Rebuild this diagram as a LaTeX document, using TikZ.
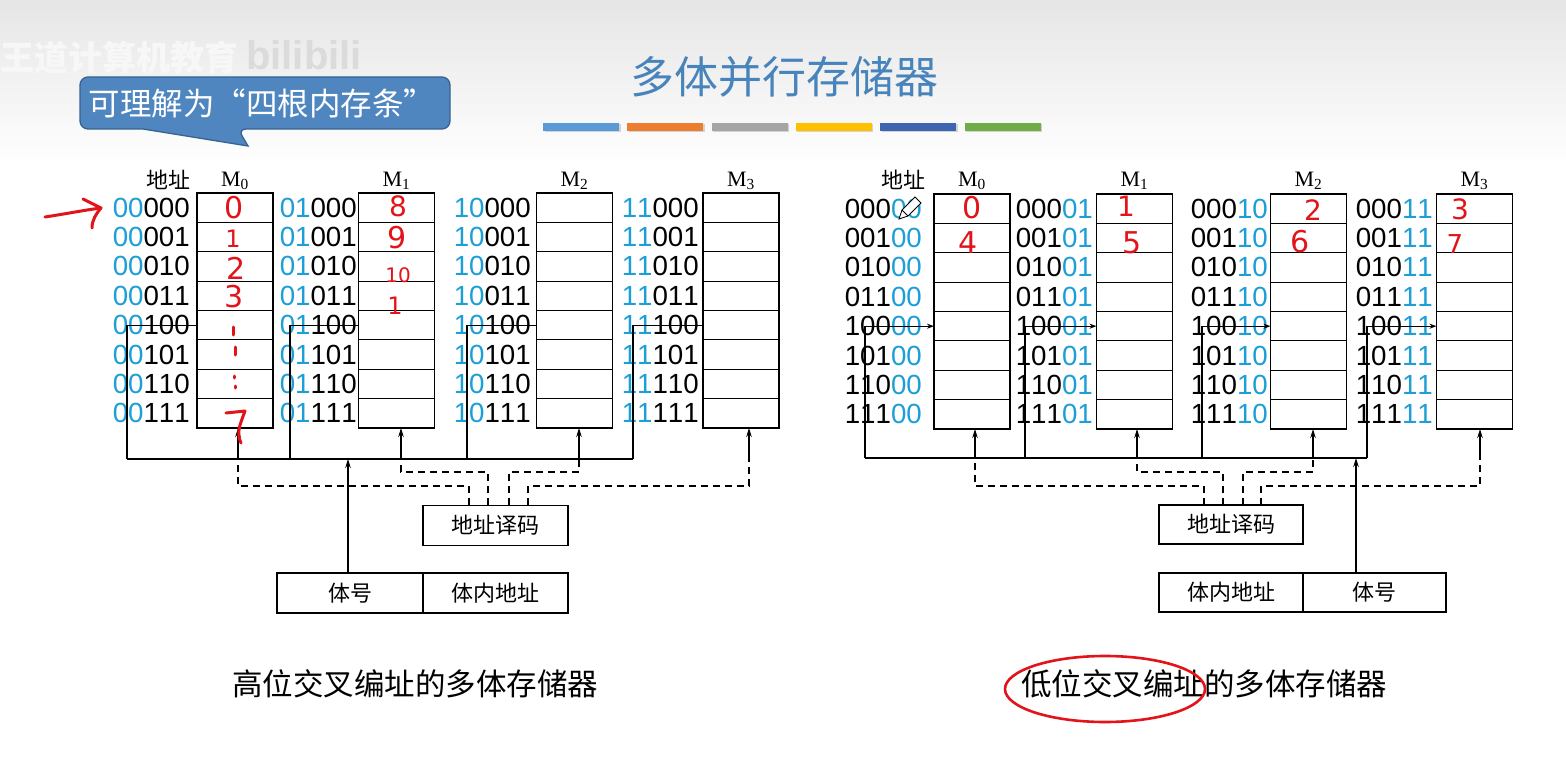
\documentclass[tikz,border=0pt]{standalone}
\usepackage{fontspec}
\setmainfont{Liberation Serif}
\newfontfamily\addrfont[Kerning=Off]{Liberation Sans}
\newfontfamily\cjkfont{Noto Sans CJK SC}
\newfontfamily\handfont{DejaVu Sans}
\usetikzlibrary{arrows.meta,calc}

\definecolor{addrblue}{RGB}{28,158,214}
\definecolor{titleblue}{RGB}{72,132,188}
\definecolor{calloutfill}{RGB}{79,134,192}
\definecolor{calloutedge}{RGB}{56,98,145}
\definecolor{inkred}{RGB}{226,20,26}
\definecolor{barA}{RGB}{91,155,213}
\definecolor{barB}{RGB}{237,125,49}
\definecolor{barC}{RGB}{165,165,165}
\definecolor{barD}{RGB}{255,192,0}
\definecolor{barE}{RGB}{62,100,178}
\definecolor{barF}{RGB}{112,173,71}

\begin{document}
\begin{tikzpicture}[x=1pt,y=-1pt,
  bank/.style={draw,line width=1.3pt,minimum width=76pt,minimum height=235pt,inner sep=0pt,outer sep=0pt},
  rowline/.style={line width=1.1pt},
  addr/.style={inner sep=0pt,font=\addrfont\fontsize{27.7}{30}\selectfont},
  mlabel/.style={inner sep=0pt,font=\fontsize{22}{24}\selectfont},
  cjklabel/.style={inner sep=0pt,font=\cjkfont\fontsize{22}{24}\selectfont},
  field/.style={draw,line width=1.3pt,minimum height=40pt,inner sep=0pt,outer sep=0pt,font=\cjkfont\fontsize{22}{24}\selectfont},
  bus/.style={line width=1.3pt},
  arr/.style={line width=1.3pt,-{Stealth[length=9pt,width=5.5pt]}},
  tipline/.style={line width=1.3pt,-{Stealth[length=7pt,width=5pt]}},
  dsh/.style={line width=1.3pt,dash pattern=on 7pt off 5pt},
  caption/.style={inner sep=0pt,font=\cjkfont\fontsize{30.5}{32}\selectfont},
  hand/.style={inner sep=0pt,text=inkred,font=\handfont\fontsize{30}{30}\selectfont},
  ink/.style={draw=inkred,line width=3pt,line cap=round,line join=round}
]
\useasboundingbox (0,0) rectangle (1566,770);
\fill[white] (0,0) rectangle (1566,770);
\shade[top color=gray!20,bottom color=white] (0,0) rectangle (1566,165);

% channel watermark
\node[inner sep=0pt,anchor=west,text=gray!6,font=\cjkfont\bfseries\fontsize{34}{34}\selectfont] (wmark) at (0,57) {王道计算机教育};
\node[inner sep=0pt,anchor=west,text=gray!28,font=\addrfont\bfseries\fontsize{40}{40}\selectfont] (wlogo) at (246,55) {bilibili};

% title and colour strip
\node[inner sep=0pt,text=titleblue,font=\cjkfont\fontsize{44}{46}\selectfont] (title) at (784,77) {多体并行存储器};
\foreach \c [count=\i from 0] in {barA,barB,barC,barD,barE,barF}{
  \fill[gray!35] ({544.5+84.3*\i},124.5) rectangle ++(76,8);
  \fill[\c] ({543+84.3*\i},123) rectangle ++(76,8);
}

% speech bubble
\draw[line width=1.3pt,draw=calloutedge,fill=calloutfill,rounded corners=8pt]
  (80,77) -- (450,77) -- (450,129) -- (238,129) [sharp corners] -- (248,146) -- (143,129) [rounded corners=8pt] -- (80,129) -- cycle;
\node[inner sep=0pt,text=white,font=\cjkfont\fontsize{31.5}{32}\selectfont] (bubble) at (262,103) {可理解为“四根内存条”};

% ================= high-order interleaving =================
\node[cjklabel] (Lhead) at (168,180) {地址};
\foreach \b/\bx/\tx [count=\j] in {00/235/190,01/396.5/357,10/574.5/531,11/741/699}{
  \node[bank] (L\j) at (\bx,310.5) {};
  \foreach \k in {1,...,7}
    \draw[rowline] ($(L\j.north west)!\k/8!(L\j.south west)$) -- ($(L\j.north east)!\k/8!(L\j.south east)$);
  \node[mlabel] (Lm\j) at (\bx,181) {M\textsubscript{\the\numexpr\j-1\relax}};
  \foreach \r [count=\i] in {000,001,010,011,100,101,110,111}
    \node[addr,anchor=east] (La\j\i) at (\tx,{193+(\i-0.5)*29.375}) {\textcolor{addrblue}{\b}\r};
}
\coordinate (LB1) at (127,459);
\coordinate (LB2) at (290,459);
\coordinate (LB3) at (467,459);
\coordinate (LB4) at (633,459);
\draw[bus] (LB1) -- (LB4);
\foreach \j in {1,...,4}
  \draw[bus] (LB\j) |- ($(L\j.north west)!0.5625!(L\j.south west)$);

\coordinate (LA1) at (238,459);
\coordinate (LA2) at (401,459);
\coordinate (LA3) at (579,459);
\coordinate (LA4) at (749,459);
\foreach \j in {1,...,4}
  \draw[arr] (LA\j) -- (LA\j |- L\j.south);

\node[field,minimum width=145pt] (LDec) at (495.5,525.5) {地址译码};
\coordinate (LP1) at (469,505);
\coordinate (LP2) at (488,505);
\coordinate (LP3) at (509,505);
\coordinate (LP4) at (528,505);
\draw[dsh] (LP1) -- ++(0,-19) -| (LA1);
\draw[dsh] (LP2) -- ++(0,-33) -| (LA2);
\draw[dsh] (LP3) -- ++(0,-33) -| (LA3);
\draw[dsh] (LP4) -- ++(0,-19) -| (LA4);

\node[field,minimum width=146pt] (LNum) at (350,593) {体号};
\node[field,minimum width=145pt] (LOff) at (495.5,593) {体内地址};
\coordinate (LQ) at (348,573);
\draw[arr] (LQ) -- (LQ |- LB1);

\node[caption] (Lcap) at (415,684) {高位交叉编址的多体存储器};

% ================= low-order interleaving =================
\node[cjklabel] (Rhead) at (903,180) {地址};
\foreach \b/\bx/\tx [count=\j] in {00/972/922,01/1134.5/1093,10/1308.5/1268,11/1474.5/1433}{
  \node[bank] (R\j) at (\bx,311.5) {};
  \foreach \k in {1,...,7}
    \draw[rowline] ($(R\j.north west)!\k/8!(R\j.south west)$) -- ($(R\j.north east)!\k/8!(R\j.south east)$);
  \node[mlabel] (Rm\j) at (\bx,181) {M\textsubscript{\the\numexpr\j-1\relax}};
  \foreach \r [count=\i] in {000,001,010,011,100,101,110,111}
    \node[addr,anchor=east] (Ra\j\i) at (\tx,{194+(\i-0.5)*29.375}) {\r\textcolor{addrblue}{\b}};
}
\coordinate (RB1) at (865,458);
\coordinate (RB2) at (1025,458);
\coordinate (RB3) at (1202,458);
\coordinate (RB4) at (1367,458);
\draw[bus] (RB1) -- (RB4);
\foreach \j in {1,...,4}
  \draw[tipline] (RB\j) |- ($(R\j.north west)!0.5625!(R\j.south west)$);

\coordinate (RA1) at (975,458);
\coordinate (RA2) at (1137,458);
\coordinate (RA3) at (1313,458);
\coordinate (RA4) at (1480,458);
\foreach \j in {1,...,4}
  \draw[arr] (RA\j) -- (RA\j |- R\j.south);

\node[field,minimum width=144pt,minimum height=39pt] (RDec) at (1231,524.5) {地址译码};
\coordinate (RP1) at (1204,505);
\coordinate (RP2) at (1223,505);
\coordinate (RP3) at (1243,505);
\coordinate (RP4) at (1261,505);
\draw[dsh] (RP1) -- ++(0,-19) -| (RA1);
\draw[dsh] (RP2) -- ++(0,-33) -| (RA2);
\draw[dsh] (RP3) -- ++(0,-33) -| (RA3);
\draw[dsh] (RP4) -- ++(0,-19) -| (RA4);

\node[field,minimum width=144pt,minimum height=39pt] (ROff) at (1231,592.5) {体内地址};
\node[field,minimum width=143pt,minimum height=39pt] (RNum) at (1374.5,592.5) {体号};
\coordinate (RQ) at (1356,573);
\draw[arr] (RQ) -- (RQ |- RB1);

\node[caption] (Rcap) at (1204,684) {低位交叉编址的多体存储器};

% pencil cursor
\draw[line width=0.9pt,fill=white] (899,219) -- (902,210) -- (915,197) -- (921,203) -- (908,216) -- cycle;
\draw[line width=0.9pt] (902,210) -- (908,216);

% ================= red pen notes =================
\draw[ink] (45,217) .. controls (65,214) and (85,210) .. (101,208);
\draw[ink] (83,199) -- (101,208) .. controls (96,214) and (92,220) .. (92,228);

\node[hand] (n0) at (234,208) {0};
\node[hand,font=\handfont\fontsize{24}{24}\selectfont] (n1) at (233,239) {1};
\node[hand] (n2) at (236,268) {2};
\node[hand] (n3) at (234,297) {3};
\draw[ink] (233,327) -- (233,335);
\draw[ink] (235,347) -- (235,355);
\draw[ink] (234,376) -- (234,378);
\draw[ink] (235,386) -- (235,388);
\draw[ink] (226,413) -- (245,411) .. controls (240,425) and (236,432) .. (241,443);

\node[hand,font=\handfont\fontsize{28}{28}\selectfont] (n8) at (398,206) {8};
\node[hand,font=\handfont\fontsize{30}{30}\selectfont] (n9) at (397,238) {9};
\node[hand,font=\handfont\fontsize{20}{20}\selectfont] (n10) at (398,275) {10};
\node[hand,font=\handfont\fontsize{24}{24}\selectfont] (n11) at (395,306) {1};

\node[hand] (r0) at (972,208) {0};
\node[hand] (r4) at (968,243) {4};
\node[hand,font=\handfont\fontsize{28}{28}\selectfont] (r1) at (1126,206) {1};
\node[hand] (r5) at (1132,243) {5};
\node[hand,font=\handfont\fontsize{28}{28}\selectfont] (r2) at (1313,210) {2};
\node[hand] (r6) at (1300,242) {6};
\node[hand,font=\handfont\fontsize{28}{28}\selectfont] (r3) at (1460,209) {3};
\node[hand,font=\handfont\fontsize{26}{26}\selectfont] (r7) at (1455,244) {7};

\draw[ink,line width=2.6pt] (1105,689) ellipse [x radius=100pt,y radius=33pt];
\end{tikzpicture}
\end{document}
